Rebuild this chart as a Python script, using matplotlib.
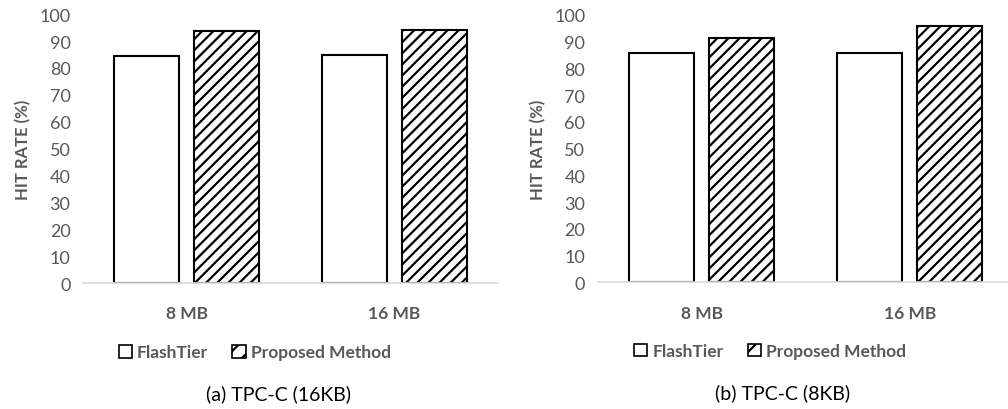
import matplotlib
matplotlib.use('Agg')
import matplotlib.pyplot as plt
import numpy as np
from matplotlib.patches import Patch

plt.rcParams['font.family'] = ['Lato', 'DejaVu Sans']
plt.rcParams['hatch.linewidth'] = 1.6

# data
sizes = ['8 MB', '16 MB']
flashtier_16kb = [84.3, 84.8]
proposed_16kb = [93.9, 94.0]
flashtier_8kb = [85.7, 85.7]
proposed_8kb = [91.3, 95.9]
captions = ['(a) TPC-C (16KB)', '(b) TPC-C (8KB)']

grey = '#595959'

fig = plt.figure(figsize=(10.08, 4.10), dpi=100)
ax1 = fig.add_axes([0.0823, 0.307, 0.4117, 0.656])
ax2 = fig.add_axes([0.593, 0.309, 0.4127, 0.652])

x = np.arange(len(sizes))
w = 0.313
off = 0.193

panels = [(ax1, flashtier_16kb, proposed_16kb, captions[0], 0.414, 0.47),
          (ax2, flashtier_8kb, proposed_8kb, captions[1], 0.414, 0.445)]

for ax, ft, pm, cap, leg_x, cap_x in panels:
    ax.bar(x - off, ft, w, color='white', edgecolor='black', linewidth=1.5)
    ax.bar(x + off, pm, w, color='white', edgecolor='black', linewidth=1.5, hatch='///')
    ax.set_xlim(-0.5, 1.5)
    ax.set_ylim(0, 100)
    ax.set_yticks(range(0, 101, 10))
    ax.set_xticks(x)
    ax.set_xticklabels(sizes, fontweight='bold', fontsize=12.5, color=grey)
    ax.tick_params(axis='y', colors=grey, labelsize=13, length=0, pad=9)
    ax.tick_params(axis='x', length=0, pad=16)
    for s in ['top', 'right', 'left']:
        ax.spines[s].set_visible(False)
    ax.spines['bottom'].set_color('#d9d9d9')
    ax.spines['bottom'].set_linewidth(1.2)
    ax.set_ylabel('HIT RATE (%)', fontweight='bold', fontsize=12, color=grey, labelpad=6)
    handles = [Patch(facecolor='white', edgecolor='black', linewidth=1.2, label='FlashTier'),
               Patch(facecolor='white', edgecolor='black', linewidth=1.2, hatch='//', label='Proposed Method')]
    ax.legend(handles=handles, loc='center', bbox_to_anchor=(leg_x, -0.257), ncol=2,
              frameon=False, handlelength=0.75, handleheight=0.75, handletextpad=0.3,
              columnspacing=1.4, prop={'weight': 'bold', 'size': 12.5}, labelcolor=grey)
    ax.text(cap_x, -0.41, cap, transform=ax.transAxes, ha='center', va='center',
            fontsize=14, color='black')

fig.savefig('out.png', dpi=100)
